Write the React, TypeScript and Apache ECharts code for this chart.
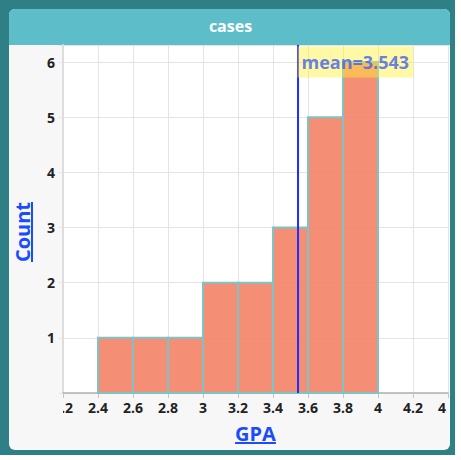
import React, { useEffect, useRef } from 'react';
import * as echarts from 'echarts';

// ---- data ----
const binStarts = [2.4, 2.6, 2.8, 3.0, 3.2, 3.4, 3.6, 3.8];
const binEnds = [2.6, 2.8, 3.0, 3.2, 3.4, 3.6, 3.8, 4.0];
const counts = [1, 1, 1, 2, 2, 3, 5, 6];
const meanValue = 3.543;
const meanLabel = 'mean=3.543';
const titleText = 'cases';
const xAxisName = 'GPA';
const yAxisName = 'Count';
const xMin = 2.2;
const xMax = 4.4;
const xStep = 0.2;
const yMin = 0;
const yMax = 6.31;
const yStep = 1;

const FONT = '"Open Sans", "DejaVu Sans", sans-serif';
const TEAL_DARK = '#2f7f87';
const TEAL_TITLE = '#5dbdc8';
const PANEL = '#f7f7f7';
const NAME_BLUE = '#1a4bff';

function measure(text: string, size: number): number {
  const c = document.createElement('canvas').getContext('2d');
  if (!c) return text.length * size * 0.6;
  c.font = `bold ${size}px "Open Sans"`;
  return c.measureText(text).width;
}

export default function App() {
  const ref = useRef<HTMLDivElement>(null);
  useEffect(() => {
    if (!ref.current) return;
    const chart = echarts.init(ref.current, undefined, { renderer: 'svg' });
    const gridLeft = 63, gridTop = 45, gridRight = 448, gridBottom = 393;
    const nameSize = 20;
    const wCount = measure(yAxisName, nameSize);
    const wGpa = measure(xAxisName, nameSize);
    const histData = binStarts.map((s, i) => [s, binEnds[i], counts[i]]);

    chart.setOption({
      animation: false,
      backgroundColor: '#ffffff',
      title: {
        text: titleText,
        left: 'center',
        top: 18,
        padding: 0,
        textStyle: { color: '#ffffff', fontWeight: 'bold', fontSize: 16, fontFamily: FONT },
      },
      grid: { left: gridLeft, top: gridTop, right: 461 - gridRight, bottom: 460 - gridBottom, containLabel: false },
      xAxis: {
        type: 'value',
        min: xMin,
        max: xMax,
        interval: xStep,
        axisLine: { show: true, lineStyle: { color: '#b0b0b0', width: 1.5 } },
        axisTick: { show: true, length: 5, lineStyle: { color: '#c4c4c4' } },
        splitLine: { show: true, lineStyle: { color: '#e4e4e4', width: 1 } },
        axisLabel: {
          margin: 7,
          color: '#222',
          fontSize: 14,
          fontWeight: 'bold',
          fontFamily: FONT,
          formatter: (v: number) => String(Math.round(v * 10) / 10),
        },
      },
      yAxis: {
        type: 'value',
        min: yMin,
        max: yMax,
        interval: yStep,
        axisLine: { show: true, lineStyle: { color: '#dddddd', width: 2 } },
        axisTick: { show: true, length: 4, lineStyle: { color: '#e4e4e4' } },
        splitLine: { show: true, lineStyle: { color: '#e4e4e4', width: 1 } },
        axisLabel: {
          margin: 8,
          color: '#222',
          fontSize: 14,
          fontWeight: 'bold',
          fontFamily: FONT,
          formatter: (v: number) => (v > 0 && Math.abs(v - Math.round(v)) < 1e-9 ? String(Math.round(v)) : ''),
        },
      },
      series: [
        {
          type: 'custom',
          data: histData,
          encode: { x: [0, 1], y: 2 },
          z: 2,
          renderItem: (params: any, api: any) => {
            const p0 = api.coord([api.value(0), api.value(2)]);
            const p1 = api.coord([api.value(1), 0]);
            return {
              type: 'rect',
              shape: { x: p0[0], y: p0[1], width: p1[0] - p0[0], height: p1[1] - p0[1] },
              style: { fill: 'rgba(242,128,99,0.88)', stroke: '#7cc4c8', lineWidth: 2 },
            };
          },
        },
        {
          type: 'line',
          data: [[meanValue, yMin], [meanValue, yMax]],
          showSymbol: false,
          symbol: 'none',
          lineStyle: { color: '#1f2eff', width: 2 },
          z: 5,
        },
        {
          type: 'scatter',
          data: [[meanValue, yMax]],
          symbolSize: 1,
          clip: false,
          itemStyle: { color: 'rgba(0,0,0,0)' },
          z: 10,
          label: {
            show: true,
            formatter: meanLabel,
            position: [0, 2],
            align: 'left',
            verticalAlign: 'top',
            color: '#3f60f2',
            fontSize: 18,
            fontWeight: 'bold',
            fontFamily: FONT,
            lineHeight: 19,
            backgroundColor: 'rgba(255,242,50,0.55)',
            padding: [6, 4, 6, 4],
          },
        },
      ],
      graphic: [
        { type: 'rect', z: -20, silent: true, shape: { x: 0, y: 0, width: 455, height: 455 }, style: { fill: TEAL_DARK } },
        { type: 'rect', z: -19, silent: true, shape: { x: 9, y: 9, width: 441, height: 441, r: 6 }, style: { fill: PANEL } },
        { type: 'rect', z: -18, silent: true, shape: { x: 9, y: 9, width: 441, height: 36, r: [6, 6, 0, 0] }, style: { fill: TEAL_TITLE } },
        { type: 'rect', z: -17, silent: true, shape: { x: gridLeft, y: gridTop, width: gridRight - gridLeft, height: gridBottom - gridTop }, style: { fill: '#ffffff' } },
        // clip covers for overflowing labels
        { type: 'rect', z: 100, silent: true, shape: { x: 9, y: 396, width: gridLeft - 9, height: 24 }, style: { fill: PANEL } },
        { type: 'rect', z: 100, silent: true, shape: { x: 446.5, y: 399, width: 4, height: 20 }, style: { fill: PANEL } },
        { type: 'rect', z: 100, silent: true, shape: { x: 450, y: 0, width: 5, height: 455 }, style: { fill: TEAL_DARK } },
        { type: 'rect', z: 100, silent: true, shape: { x: 455, y: 0, width: 6, height: 460 }, style: { fill: '#ffffff' } },
        { type: 'rect', z: 100, silent: true, shape: { x: 0, y: 455, width: 461, height: 5 }, style: { fill: '#ffffff' } },
        // y axis name
        {
          type: 'group',
          x: 22,
          y: 232,
          rotation: Math.PI / 2,
          z: 50,
          children: [
            {
              type: 'text',
              style: {
                text: yAxisName,
                x: 0,
                y: 0,
                textAlign: 'center',
                textVerticalAlign: 'middle',
                fontSize: nameSize,
                fontWeight: 'bold',
                fontFamily: FONT,
                fill: NAME_BLUE,
              },
            },
            { type: 'rect', shape: { x: -wCount / 2, y: 9, width: wCount, height: 2 }, style: { fill: NAME_BLUE } },
          ],
        },
        // x axis name
        {
          type: 'group',
          x: (gridLeft + gridRight) / 2,
          y: 433,
          z: 50,
          children: [
            {
              type: 'text',
              style: {
                text: xAxisName,
                x: 0,
                y: 0,
                textAlign: 'center',
                textVerticalAlign: 'middle',
                fontSize: nameSize,
                fontWeight: 'bold',
                fontFamily: FONT,
                fill: NAME_BLUE,
              },
            },
            { type: 'rect', shape: { x: -wGpa / 2, y: 9, width: wGpa, height: 2 }, style: { fill: NAME_BLUE } },
          ],
        },
      ],
    });
    return () => chart.dispose();
  }, []);
  return <div ref={ref} style={{ position: 'fixed', left: 0, top: 0, width: 461, height: 460 }} />;
}
